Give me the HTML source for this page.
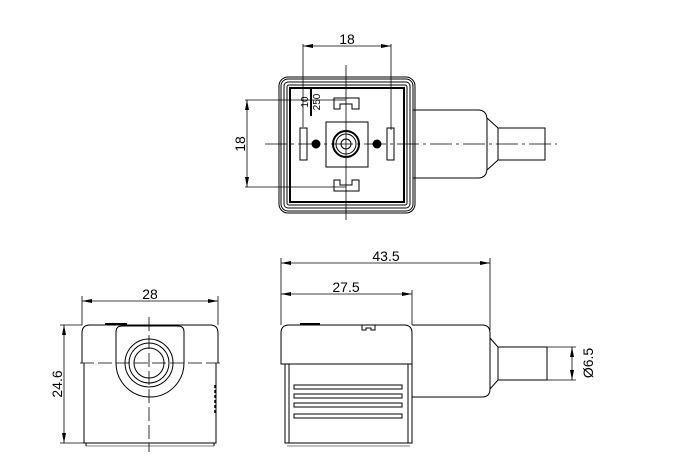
<!DOCTYPE html>
<html><head><meta charset="utf-8"><style>html,body{margin:0;padding:0;background:#fff}svg{display:block}</style></head><body>
<svg width="680" height="474" viewBox="0 0 680 474" xmlns="http://www.w3.org/2000/svg" font-family="Liberation Sans, Arial, sans-serif">
<defs>
<marker id="a" viewBox="0 0 10 4" refX="10" refY="2" markerWidth="10" markerHeight="4" orient="auto-start-reverse" markerUnits="userSpaceOnUse"><path d="M0,0L10,2L0,4z" fill="#000"/></marker>
</defs>
<g fill="none" stroke="#000" stroke-width="1">
<!-- TOP VIEW -->
<line x1="303" y1="44" x2="303" y2="127" stroke-width="0.8"/>
<line x1="391" y1="44" x2="391" y2="130" stroke-width="0.8"/>
<line x1="303" y1="46" x2="391" y2="46" marker-start="url(#a)" marker-end="url(#a)" stroke-width="0.8"/>
<line x1="245" y1="100" x2="346" y2="100" stroke-width="0.8"/>
<line x1="245" y1="187" x2="346" y2="187" stroke-width="0.8"/>
<line x1="247" y1="100" x2="247" y2="187" marker-start="url(#a)" marker-end="url(#a)" stroke-width="0.8"/>
<rect x="279" y="77" width="136" height="136" rx="9"/>
<rect x="281" y="79" width="132" height="132" rx="7"/>
<rect x="284" y="82" width="126" height="126" rx="4"/>
<rect x="287" y="85" width="120" height="120" rx="2"/>
<rect x="290" y="88" width="114" height="114" stroke-width="2"/>
<path d="M413,110H478Q487,110 487,120V168Q487,178 478,178H413"/>
<path d="M487,118L498,128M487,170L498,160"/>
<rect x="498" y="128" width="47" height="32"/>
<rect x="326" y="122" width="42" height="45"/>
<circle cx="346" cy="144" r="13" stroke-width="2"/>
<circle cx="346" cy="144" r="10"/>
<circle cx="346" cy="144" r="5"/>
<rect x="300" y="128" width="7" height="32"/>
<rect x="387" y="128" width="7" height="32"/>
<circle cx="316" cy="144" r="4" fill="#000"/>
<circle cx="377" cy="144" r="4" fill="#000"/>
<path d="M334,98H359V109H352V104H340V109H334Z"/>
<path d="M334,191H359V180H352V185H340V180H334Z"/>
<line x1="311" y1="88" x2="311" y2="116" stroke-width="2"/>
<line x1="346" y1="65" x2="346" y2="220" stroke-width="0.8"/>
<line x1="265" y1="144" x2="557" y2="144" stroke-width="0.8" stroke-dasharray="22,4,3,4"/>
<!-- BOTTOM LEFT VIEW -->
<line x1="82" y1="296" x2="82" y2="325" stroke-width="0.8"/>
<line x1="218" y1="296" x2="218" y2="325" stroke-width="0.8"/>
<line x1="82" y1="301" x2="218" y2="301" marker-start="url(#a)" marker-end="url(#a)" stroke-width="0.8"/>
<line x1="60" y1="325" x2="82" y2="325" stroke-width="0.8"/>
<line x1="60" y1="443" x2="84" y2="443" stroke-width="0.8"/>
<line x1="64" y1="325" x2="64" y2="443" marker-start="url(#a)" marker-end="url(#a)" stroke-width="0.8"/>
<path d="M82,363V333Q82,325 90,325H210Q218,325 218,333V363"/>
<path d="M84,363V443H216V363"/>
<line x1="86" y1="443" x2="86" y2="446"/><line x1="214" y1="443" x2="214" y2="446"/><line x1="86" y1="446" x2="214" y2="446" stroke-width="0.6"/>
<path d="M116,363V332Q116,326 122,326H178Q184,326 184,332V363A34,34 0 0 1 116,363"/>
<circle cx="149" cy="363" r="24"/>
<circle cx="149" cy="363" r="20"/>
<circle cx="149" cy="363" r="15"/>
<line x1="105" y1="324" x2="127" y2="324" stroke-width="2"/>
<line x1="215" y1="385" x2="215" y2="415" stroke-width="1.5" stroke-dasharray="3,2"/>
<line x1="80" y1="363" x2="222" y2="363" stroke-width="0.8" stroke-dasharray="14,4"/>
<line x1="149" y1="317" x2="149" y2="452" stroke-width="0.8" stroke-dasharray="14,4"/>
<!-- SIDE VIEW -->
<line x1="281" y1="258" x2="281" y2="325" stroke-width="0.8"/>
<line x1="412" y1="290" x2="412" y2="325" stroke-width="0.8"/>
<line x1="490" y1="258" x2="490" y2="330" stroke-width="0.8"/>
<line x1="281" y1="263" x2="490" y2="263" marker-start="url(#a)" marker-end="url(#a)" stroke-width="0.8"/>
<line x1="281" y1="294" x2="412" y2="294" marker-start="url(#a)" marker-end="url(#a)" stroke-width="0.8"/>
<path d="M281,364V333Q281,325 289,325H404Q412,325 412,333V364Z"/>
<path d="M362,325V330H366V328H371V330H375V325"/>
<line x1="300" y1="324" x2="320" y2="324" stroke-width="2"/>
<path d="M412,325H482Q490,325 490,333V389Q490,397 482,397H412"/>
<path d="M490,338L498,347M490,389L498,380"/>
<rect x="498" y="347" width="49" height="33"/>
<line x1="547" y1="347" x2="576" y2="347" stroke-width="0.8"/>
<line x1="547" y1="380" x2="576" y2="380" stroke-width="0.8"/>
<line x1="572" y1="347" x2="572" y2="380" marker-start="url(#a)" marker-end="url(#a)" stroke-width="0.8"/>
<path d="M285,364V443H412V364"/>
<line x1="289" y1="364" x2="289" y2="443"/><line x1="408" y1="364" x2="408" y2="443"/>
<line x1="287" y1="446" x2="410" y2="446" stroke-width="0.6"/>
<rect x="294" y="385" width="108" height="4"/>
<rect x="294" y="394" width="108" height="4"/>
<rect x="294" y="403" width="108" height="4"/>
<rect x="294" y="414" width="108" height="4"/>
</g>
<g fill="#000" font-size="14">
<text x="347" y="44" text-anchor="middle">18</text>
<text transform="translate(245,144) rotate(-90)" text-anchor="middle">18</text>
<text x="150" y="299" text-anchor="middle">28</text>
<text transform="translate(62,384) rotate(-90)" text-anchor="middle">24.6</text>
<text x="386" y="261" text-anchor="middle">43.5</text>
<text x="346" y="292" text-anchor="middle">27.5</text>
<text transform="translate(593,363) rotate(-90)" text-anchor="middle">Ø6.5</text>
<text transform="translate(308,102) rotate(-90)" text-anchor="middle" font-size="10">10</text>
<text transform="translate(320,102) rotate(-90)" text-anchor="middle" font-size="10">250</text>
</g>
</svg>
</body></html>
